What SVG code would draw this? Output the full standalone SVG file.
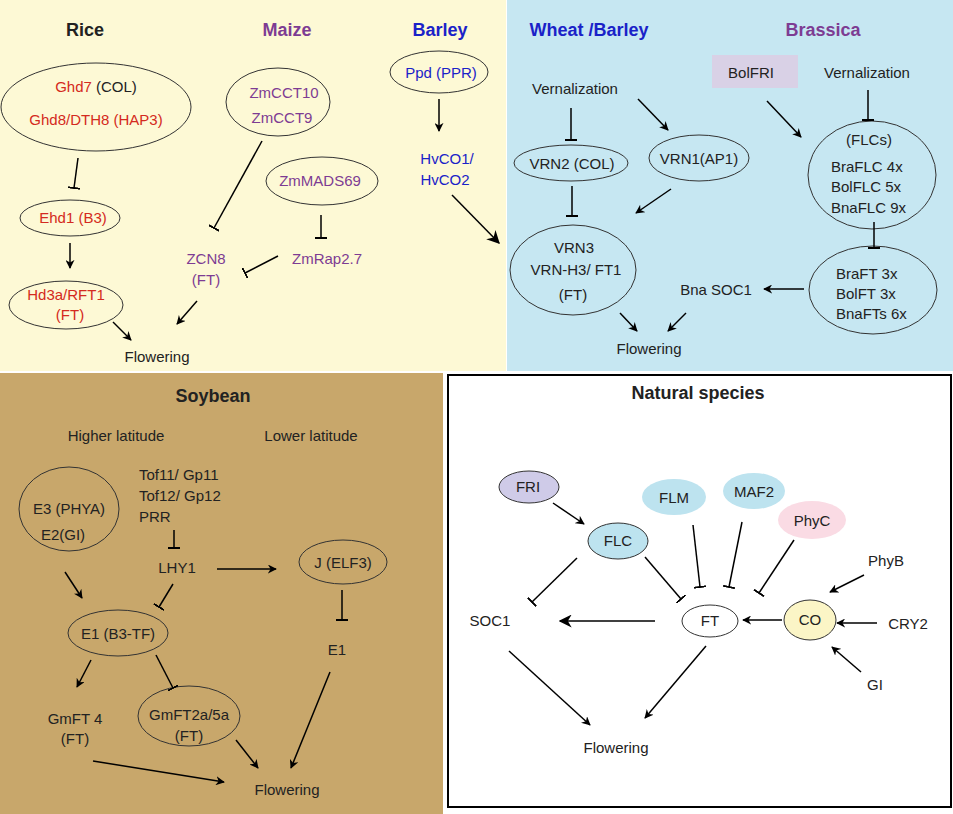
<svg xmlns="http://www.w3.org/2000/svg" width="953" height="814" viewBox="0 0 953 814">
<defs>
<marker id="ar" viewBox="0 0 10 10" refX="9" refY="5" markerWidth="9" markerHeight="9" markerUnits="userSpaceOnUse" orient="auto"><path d="M0,0 L10,5 L0,10 L3,5 z" fill="#000"/></marker>
<marker id="ar2" viewBox="0 0 10 10" refX="9" refY="5" markerWidth="13" markerHeight="13" markerUnits="userSpaceOnUse" orient="auto"><path d="M0,0 L10,5 L0,10 L3,5 z" fill="#000"/></marker>
<marker id="tb" viewBox="0 -6 2 12" refX="1" refY="0" markerWidth="2" markerHeight="12" markerUnits="userSpaceOnUse" orient="auto"><rect x="0" y="-6" width="2" height="12" fill="#000"/></marker>
</defs>
<style>
text{font-family:"Liberation Sans",Arial,sans-serif;font-size:15px;text-anchor:middle;fill:#222}
.t{font-weight:bold;font-size:18px}
.r{fill:#d42a20}.p{fill:#7d3c93}.b{fill:#1a22c8}
.l{text-anchor:start}
ellipse{fill:none;stroke:#333;stroke-width:1}
.c line,.c path{stroke:#000;stroke-width:1.5;fill:none}
.a{marker-end:url(#ar)}.a2{marker-end:url(#ar2)}.i{marker-end:url(#tb)}
</style>
<rect x="0" y="0" width="506" height="371" fill="#fdf9d5"/>
<rect x="507" y="0" width="446" height="371" fill="#c6e7f2"/>
<rect x="0" y="373" width="443" height="441" fill="#c8a76b"/>
<rect x="448" y="375" width="503" height="432" fill="#fff" stroke="#000" stroke-width="2"/>

<g id="titles">
<text class="t" x="85" y="36">Rice</text>
<text class="t p" x="287" y="36">Maize</text>
<text class="t b" x="440" y="36">Barley</text>
<text class="t b" x="589" y="36">Wheat /Barley</text>
<text class="t p" x="823" y="36">Brassica</text>
<text class="t" x="213" y="402">Soybean</text>
<text x="116" y="441">Higher latitude</text>
<text x="311" y="441">Lower latitude</text>
<text class="t" x="698" y="399">Natural  species</text>
</g>

<g id="ghd7"><ellipse cx="96" cy="107" rx="95" ry="44"/><text x="96" y="92"><tspan class="r">Ghd7</tspan> (COL)</text><text class="r" x="96" y="125">Ghd8/DTH8 (HAP3)</text></g>
<g id="ehd1"><ellipse cx="70" cy="218" rx="50" ry="18"/><text class="r" x="73" y="223">Ehd1 (B3)</text></g>
<g id="hd3a"><ellipse cx="66" cy="305" rx="57" ry="24"/><text class="r" x="66" y="300">Hd3a/RFT1</text><text class="r" x="70" y="320">(FT)</text></g>
<g id="flow1"><text x="157" y="362">Flowering</text></g>
<g id="zmcct"><ellipse cx="278" cy="102" rx="52" ry="34"/><text class="p" x="284" y="98">ZmCCT10</text><text class="p" x="282" y="123">ZmCCT9</text></g>
<g id="zmmads"><ellipse cx="322" cy="181" rx="56" ry="24"/><text class="p" x="320" y="186">ZmMADS69</text></g>
<g id="zmrap"><text class="p" x="327" y="264">ZmRap2.7</text></g>
<g id="zcn8"><text class="p" x="206" y="264">ZCN8</text><text class="p" x="206" y="285">(FT)</text></g>
<g id="ppd"><ellipse cx="439" cy="72" rx="49" ry="21"/><text class="b" x="441" y="78">Ppd (PPR)</text></g>
<g id="hvco"><text class="b" x="447" y="164">HvCO1/</text><text class="b" x="445" y="185">HvCO2</text></g>

<g id="vern1"><text x="575" y="94">Vernalization</text></g>
<g id="vrn2"><ellipse cx="571" cy="163" rx="57" ry="18"/><text x="572" y="169">VRN2 (COL)</text></g>
<g id="vrn1"><ellipse cx="699" cy="158" rx="50" ry="23"/><text x="699" y="164">VRN1(AP1)</text></g>
<g id="vrn3"><ellipse cx="573" cy="270" rx="63" ry="45"/><text x="574" y="253">VRN3</text><text x="576" y="275">VRN-H3/ FT1</text><text x="573" y="300">(FT)</text></g>
<g id="flow2"><text x="649" y="354">Flowering</text></g>
<g id="bolfri"><rect x="712" y="55" width="86" height="33" fill="#d9d1e6"/><text x="751" y="78">BolFRI</text></g>
<g id="vern2"><text x="867" y="78">Vernalization</text></g>
<g id="flcs"><ellipse cx="872" cy="175" rx="64" ry="54"/><text x="869" y="145">(FLCs)</text><text class="l" x="831" y="172">BraFLC  4x</text><text class="l" x="831" y="192">BolFLC  5x</text><text class="l" x="831" y="213">BnaFLC 9x</text></g>
<g id="brafts"><ellipse cx="873" cy="290" rx="64" ry="44"/><text class="l" x="836" y="279">BraFT  3x</text><text class="l" x="836" y="299">BolFT  3x</text><text class="l" x="836" y="319">BnaFTs 6x</text></g>
<g id="bnasoc1"><text x="716" y="295">Bna SOC1</text></g>

<g id="e3"><ellipse cx="69" cy="509" rx="50" ry="42"/><text x="69" y="514">E3 (PHYA)</text><text x="63" y="540">E2(GI)</text></g>
<g id="tof"><text class="l" x="139" y="480">Tof11/ Gp11</text><text class="l" x="139" y="501">Tof12/ Gp12</text><text class="l" x="139" y="522">PRR</text></g>
<g id="lhy1"><text x="177" y="573">LHY1</text></g>
<g id="j"><ellipse cx="343" cy="562" rx="44" ry="22"/><text x="343" y="568">J (ELF3)</text></g>
<g id="e1b"><text x="337" y="655">E1</text></g>
<g id="e1"><ellipse cx="118" cy="633" rx="50" ry="23"/><text x="118" y="639">E1 (B3-TF)</text></g>
<g id="gmft4"><text x="75" y="724">GmFT 4</text><text x="75" y="744">(FT)</text></g>
<g id="gmft2a"><ellipse cx="189" cy="716" rx="51" ry="30"/><text x="189" y="720">GmFT2a/5a</text><text x="189" y="741">(FT)</text></g>
<g id="flow3"><text x="287" y="795">Flowering</text></g>

<g id="fri"><ellipse cx="529" cy="487" rx="30" ry="16" style="fill:#cfcbe8"/><text x="528" y="492">FRI</text></g>
<g id="flc"><ellipse cx="618" cy="541" rx="30" ry="18" style="fill:#bde3ef"/><text x="618" y="546">FLC</text></g>
<g id="flm"><ellipse cx="674" cy="497" rx="32" ry="18" style="fill:#bde3ef;stroke:none"/><text x="674" y="503">FLM</text></g>
<g id="maf2"><ellipse cx="754" cy="491" rx="31" ry="18" style="fill:#bde3ef;stroke:none"/><text x="754" y="497">MAF2</text></g>
<g id="phyc"><ellipse cx="812" cy="520" rx="34" ry="19" style="fill:#fadbe4;stroke:none"/><text x="812" y="526">PhyC</text></g>
<g id="ft"><ellipse cx="710" cy="621" rx="28" ry="16" style="fill:#fff"/><text x="710" y="626">FT</text></g>
<g id="co"><ellipse cx="810" cy="620" rx="26" ry="20" style="fill:#fbf5c6"/><text x="810" y="625">CO</text></g>
<g id="soc1"><text x="490" y="626">SOC1</text></g>
<g id="phyb"><text x="886" y="566">PhyB</text></g>
<g id="cry2"><text x="908" y="629">CRY2</text></g>
<g id="gi"><text x="875" y="690">GI</text></g>
<g id="flow4"><text x="616" y="753">Flowering</text></g>

<g class="c" id="connectors">
<line class="i" x1="78" y1="158" x2="74" y2="188"/>
<line class="a" x1="70" y1="243" x2="70" y2="268"/>
<line class="a" x1="113" y1="322" x2="131" y2="340"/>
<line class="i" x1="262" y1="141" x2="214" y2="228"/>
<line class="i" x1="321" y1="215" x2="321" y2="238"/>
<line class="i" x1="278" y1="256" x2="245" y2="273"/>
<line class="a" x1="197" y1="301" x2="177" y2="324"/>
<line class="a" x1="439" y1="99" x2="439" y2="131"/>
<line class="a2" x1="452" y1="195" x2="499" y2="243"/>
<line class="i" x1="571" y1="108" x2="571" y2="140"/>
<line class="a" x1="638" y1="99" x2="668" y2="130"/>
<line class="i" x1="572" y1="186" x2="572" y2="216"/>
<line class="a" x1="671" y1="189" x2="636" y2="213"/>
<line class="a" x1="620" y1="313" x2="637" y2="331"/>
<line class="a" x1="686" y1="313" x2="668" y2="331"/>
<line class="a" x1="767" y1="101" x2="801" y2="137"/>
<line class="i" x1="868" y1="90" x2="868" y2="120"/>
<line class="i" x1="874" y1="222" x2="874" y2="248"/>
<line class="a" x1="804" y1="289" x2="764" y2="289"/>
<line class="i" x1="174" y1="530" x2="174" y2="548"/>
<line class="a" x1="217" y1="569" x2="276" y2="569"/>
<line class="i" x1="342" y1="590" x2="342" y2="620"/>
<line class="a" x1="330" y1="672" x2="291" y2="768"/>
<line class="a" x1="65" y1="572" x2="82" y2="598"/>
<line class="i" x1="173" y1="584" x2="159" y2="607"/>
<line class="a" x1="91" y1="660" x2="77" y2="687"/>
<line class="i" x1="156" y1="655" x2="173" y2="688"/>
<line class="a" x1="236" y1="740" x2="258" y2="768"/>
<line class="a" x1="93" y1="761" x2="224" y2="782"/>
<line class="a" x1="553" y1="503" x2="584" y2="524"/>
<line class="i" x1="577" y1="558" x2="532" y2="602"/>
<line class="i" x1="645" y1="557" x2="681" y2="599"/>
<line class="i" x1="693" y1="525" x2="700" y2="587"/>
<line class="i" x1="742" y1="522" x2="729" y2="587"/>
<line class="i" x1="794" y1="540" x2="759" y2="593"/>
<line class="a2" x1="655" y1="621" x2="560" y2="621"/>
<line class="a" x1="782" y1="620" x2="743" y2="620"/>
<line class="a" x1="864" y1="575" x2="830" y2="592"/>
<line class="a" x1="877" y1="623" x2="837" y2="623"/>
<line class="a" x1="861" y1="672" x2="832" y2="647"/>
<line class="a" x1="509" y1="651" x2="590" y2="725"/>
<line class="a" x1="706" y1="646" x2="645" y2="718"/>
</g>
</svg>
